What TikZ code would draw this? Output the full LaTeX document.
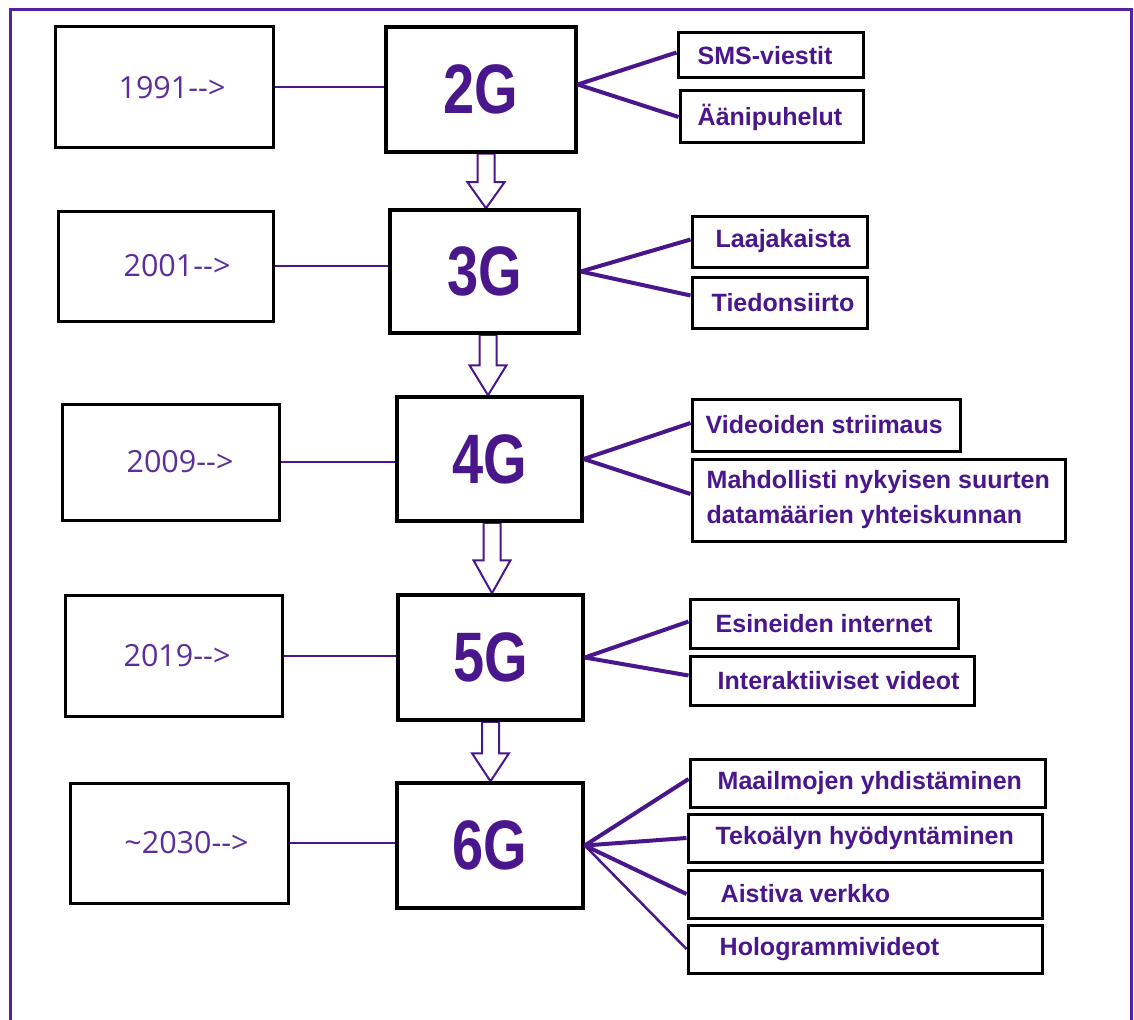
\documentclass[tikz,border=0pt]{standalone}
\usepackage{fontspec}
\usepackage{graphicx}
\setmainfont{Liberation Sans}
\newfontfamily\yearfont{Open Sans}
\usetikzlibrary{calc,backgrounds}
\definecolor{vio}{HTML}{4A168C}
\definecolor{vioyear}{HTML}{5B2E9E}
\definecolor{frameviolet}{HTML}{5322A0}
\newcommand\genarrow[4]{%
 \pgfmathsetmacro\bxa{#3-8.5}\pgfmathsetmacro\bxb{#3+8.5}%
 \pgfmathsetmacro\bxc{#3-18.5}\pgfmathsetmacro\bxd{#3+18.5}%
 \draw[barrow] (\bxa,0 |- #1.south) -- ($(\bxa,0 |- #2.north)+(0,-#4)$) -- ($(\bxc,0 |- #2.north)+(0,-#4)$) -- (#3,0 |- #2.north) -- ($(\bxd,0 |- #2.north)+(0,-#4)$) -- ($(\bxb,0 |- #2.north)+(0,-#4)$) -- (\bxb,0 |- #1.south) -- cycle;}
\newcommand\yr[2]{\hspace*{#1pt}#2-\kern0pt-\kern0pt>}
\begin{document}
\begin{tikzpicture}[x=1pt,y=-1pt,
  yearbox/.style={draw=black, line width=3pt, fill=white, inner sep=0pt, font=\yearfont\fontsize{30.5}{36}\selectfont, text=vioyear},
  genbox/.style={draw=black, line width=3.5pt, fill=white, inner sep=0pt, font=\bfseries\fontsize{70}{80}\selectfont, text=vio},
  itembox/.style={draw=black, line width=3pt, fill=white, inner sep=0pt},
  itemtext/.style={font=\bfseries\fontsize{25}{35}\selectfont, text=vio, align=left, anchor=west, inner sep=0pt},
  yearline/.style={draw=vio, line width=2pt},
  featline/.style={draw=vio, line width=4pt},
  barrow/.style={draw=vio, line width=2pt, fill=white, line join=miter},
]
\useasboundingbox (0,0) rectangle (1134,1019);

% year boxes
\node[yearbox, minimum width=218, minimum height=121] (y1) at (164,87.5) {\yr{16}{1991}};
\node[yearbox, minimum width=215, minimum height=110] (y2) at (165.5,266) {\yr{23}{2001}};
\node[yearbox, minimum width=217, minimum height=116] (y3) at (170.5,462) {\yr{19}{2009}};
\node[yearbox, minimum width=217, minimum height=121] (y4) at (173.5,655.5) {\yr{7}{2019}};
\node[yearbox, minimum width=218, minimum height=120] (y5) at (179,843) {\yr{15}{\textasciitilde 2030}};

% generation boxes
\node[genbox, minimum width=190, minimum height=125] (g2) at (481,89.5) {\scalebox{0.8}[1]{2G}};
\node[genbox, minimum width=189, minimum height=123] (g3) at (484.5,271.5) {\scalebox{0.8}[1]{3G}};
\node[genbox, minimum width=185, minimum height=124] (g4) at (489.5,459) {\scalebox{0.8}[1]{4G}};
\node[genbox, minimum width=185, minimum height=125] (g5) at (490.5,657.5) {\scalebox{0.8}[1]{5G}};
\node[genbox, minimum width=186, minimum height=125] (g6) at (490,845.5) {\scalebox{0.8}[1]{6G}};

% feature boxes
\node[itembox, minimum width=185, minimum height=45, label={[itemtext, xshift=21]west:SMS-viestit}] (i21) at (770.5,55.5) {};
\node[itembox, minimum width=183, minimum height=52, label={[itemtext, xshift=19]west:Äänipuhelut}] (i22) at (771.5,117) {};
\node[itembox, minimum width=175, minimum height=51, label={[itemtext, xshift=25]west:Laajakaista}] (i31) at (779.5,241.5) {};
\node[itembox, minimum width=175, minimum height=51, label={[itemtext, xshift=21]west:Tiedonsiirto}] (i32) at (779.5,302.5) {};
\node[itembox, minimum width=268, minimum height=52, label={[itemtext, xshift=15]west:Videoiden striimaus}] (i41) at (826,425) {};
\node[itembox, minimum width=373, minimum height=82, label={[itemtext, xshift=16]west:Mahdollisti nykyisen suurten\\datamäärien yhteiskunnan}] (i42) at (878.5,500) {};
\node[itembox, minimum width=268, minimum height=49, label={[itemtext, xshift=27]west:Esineiden internet}] (i51) at (824,623.5) {};
\node[itembox, minimum width=284, minimum height=49, label={[itemtext, xshift=29]west:Interaktiiviset videot}] (i52) at (832,680.5) {};
\node[itembox, minimum width=355, minimum height=48, label={[itemtext, xshift=29]west:Maailmojen yhdistäminen}] (i61) at (867.5,783) {};
\node[itembox, minimum width=354, minimum height=48, label={[itemtext, xshift=29]west:Tekoälyn hyödyntäminen}] (i62) at (865,838) {};
\node[itembox, minimum width=354, minimum height=48, label={[itemtext, xshift=34]west:Aistiva verkko}] (i63) at (865,894) {};
\node[itembox, minimum width=354, minimum height=48, label={[itemtext, xshift=33]west:Hologrammivideot}] (i64) at (865,949) {};

% year connectors
\draw[yearline] (y1.east) -- (y1.east -| g2.west);
\draw[yearline] (y2.east) -- (y2.east -| g3.west);
\draw[yearline] (y3.east) -- (y3.east -| g4.west);
\draw[yearline] (y4.east) -- (y4.east -| g5.west);
\draw[yearline] (y5.east) -- (y5.east -| g6.west);

% feature connectors
\draw[featline] ($(g2.east)+(0,-5)$) -- ($(i21.west)+(0,-3)$);
\draw[featline] ($(g2.east)+(0,-5)$) -- (i22.west);
\draw[featline] (g3.east) -- ($(i31.west)+(0,-2)$);
\draw[featline] (g3.east) -- ($(i32.west)+(0,-7)$);
\draw[featline] (g4.east) -- ($(i41.west)+(0,-2)$);
\draw[featline] (g4.east) -- ($(i42.west)+(0,-6)$);
\draw[featline] (g5.east) -- ($(i51.west)+(0,-2)$);
\draw[featline] (g5.east) -- ($(i52.west)+(0,-5)$);
\draw[featline] (g6.east) -- ($(i61.west)+(0,-4)$);
\draw[featline] (g6.east) -- (i62.west);
\draw[featline] (g6.east) -- (i63.west);
\draw[featline, line width=2.5pt] (g6.east) -- (i64.west);

\begin{scope}[on background layer]
\draw[draw=frameviolet, line width=3pt] (10,1025) -- (10,9.5) -- (1131,9.5) -- (1131,1025);
\genarrow{g2}{g3}{486}{26}
\genarrow{g3}{g4}{488}{30}
\genarrow{g4}{g5}{492}{33}
\genarrow{g5}{g6}{490.5}{28}
\end{scope}
\end{tikzpicture}
\end{document}
